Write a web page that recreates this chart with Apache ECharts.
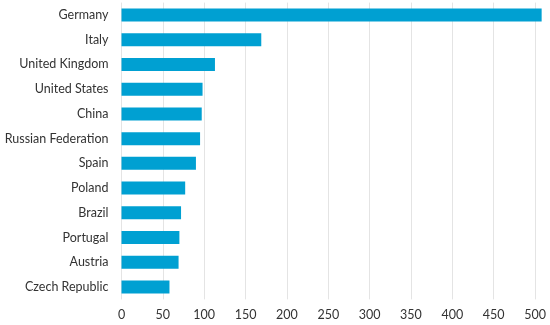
<!DOCTYPE html>
<html>
<head>
<meta charset="utf-8">
<script src="https://cdn.jsdelivr.net/npm/echarts@6/dist/echarts.min.js"></script>
<style>html,body{margin:0;padding:0;background:#fff}#c{width:550px;height:325px}</style>
</head>
<body>
<div id="c"></div>
<script>
const countries = ["Germany","Italy","United Kingdom","United States","China","Russian Federation","Spain","Poland","Brazil","Portugal","Austria","Czech Republic"];
const values = [508,169,113,98,97,95,90,77,72,70,69,58];
const xTicks = [0,50,100,150,200,250,300,350,400,450,500];

const chart = echarts.init(document.getElementById('c'), null, {renderer:'canvas'});
chart.setOption({
  animation:false,
  grid:{left:121.5,right:6.7,top:2.6,bottom:25.6,containLabel:false},
  xAxis:{type:'value',min:0,max:510,interval:50,
    axisLine:{show:false},axisTick:{show:false},
    splitLine:{show:true,showMaxLine:false,lineStyle:{color:'#e4e4e4',width:1}},
    axisLabel:{color:'#333',fontFamily:'Lato',fontSize:12.5,margin:9,
      formatter:v=>xTicks.includes(v)?String(v):''}},
  yAxis:{type:'category',data:countries,inverse:true,
    axisLine:{show:false},axisTick:{show:false},
    axisLabel:{color:'#333',fontFamily:'Lato',fontSize:12.5,margin:13}},
  series:[{type:'bar',data:values,barWidth:13,itemStyle:{color:'#00a0d2'}}]
});
</script>
</body>
</html>
